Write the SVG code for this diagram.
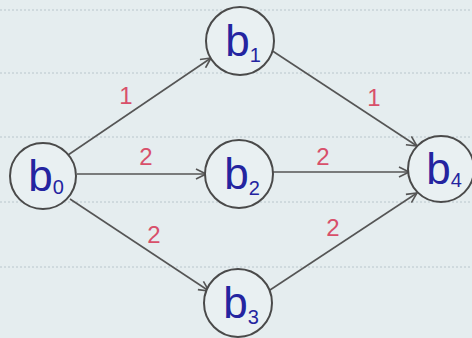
<svg xmlns="http://www.w3.org/2000/svg" width="472" height="338" viewBox="0 0 472 338">
<style>
.paper{fill:#e5edef}
.rule{stroke:#b9c6cc;stroke-width:1;stroke-dasharray:2 2}
.node circle{fill:#e9f0f2;stroke:#4a4a4a;stroke-width:2}
.node text{font-family:"Liberation Sans",Arial,sans-serif;font-size:44px;fill:#2424a0;text-anchor:middle}
.sub{font-size:20px}
.edge{stroke:#555;stroke-width:1.6;fill:none;marker-end:url(#arr)}
.w{font-family:"Liberation Sans",Arial,sans-serif;font-size:24px;fill:#d8506a;text-anchor:middle}
</style>
<defs>
<marker id="arr" viewBox="0 0 12 12" refX="11" refY="6" markerWidth="12" markerHeight="12" markerUnits="userSpaceOnUse" orient="auto">
<path d="M1,1 L11,6 L1,11" fill="none" stroke="#555" stroke-width="1.6"/>
</marker>
</defs>
<rect class="paper" x="0" y="0" width="472" height="338"/>
<g id="rules">
<line class="rule" x1="0" y1="10" x2="472" y2="10"/>
<line class="rule" x1="0" y1="73" x2="472" y2="73"/>
<line class="rule" x1="0" y1="137" x2="472" y2="137"/>
<line class="rule" x1="0" y1="202" x2="472" y2="202"/>
<line class="rule" x1="0" y1="267" x2="472" y2="267"/>
</g>
<g id="connectors">
<line class="edge" x1="68" y1="155" x2="211" y2="58"/>
<line class="edge" x1="77" y1="174" x2="206" y2="174"/>
<line class="edge" x1="70" y1="199" x2="209" y2="291"/>
<line class="edge" x1="271" y1="50" x2="417" y2="146"/>
<line class="edge" x1="273" y1="172" x2="409" y2="172"/>
<line class="edge" x1="270" y1="290" x2="417" y2="193"/>
<text class="w" x="126" y="104">1</text>
<text class="w" x="146" y="165">2</text>
<text class="w" x="154" y="243">2</text>
<text class="w" x="374" y="106">1</text>
<text class="w" x="323" y="165">2</text>
<text class="w" x="333" y="236">2</text>
</g>
<g id="b0" class="node"><circle cx="43" cy="176" r="33"/><text x="46" y="191">b<tspan class="sub" dy="3">0</tspan></text></g>
<g id="b1" class="node"><circle cx="240" cy="41" r="34"/><text x="243" y="56">b<tspan class="sub" dy="6">1</tspan></text></g>
<g id="b2" class="node"><circle cx="239" cy="174" r="34"/><text x="242" y="189">b<tspan class="sub" dy="6">2</tspan></text></g>
<g id="b3" class="node"><circle cx="238" cy="303" r="34"/><text x="241" y="318">b<tspan class="sub" dy="6">3</tspan></text></g>
<g id="b4" class="node"><circle cx="441" cy="169" r="33"/><text x="444" y="184">b<tspan class="sub" dy="3">4</tspan></text></g>
</svg>
